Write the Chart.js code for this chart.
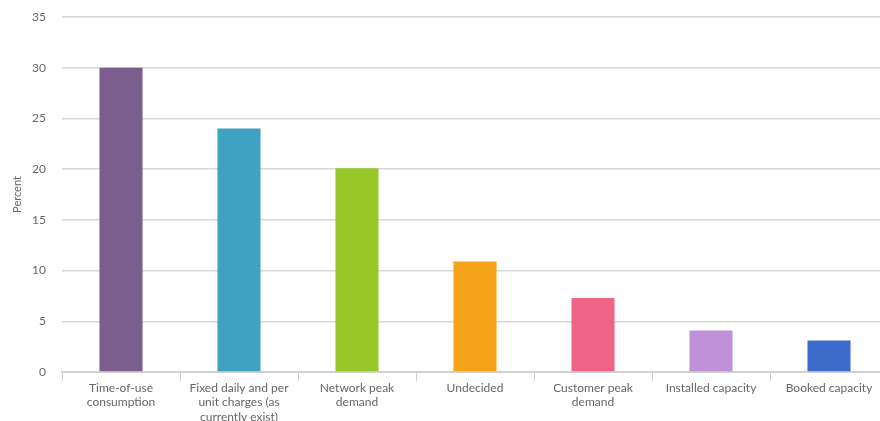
<!DOCTYPE html>
<html lang="en">
<head>
  <meta charset="UTF-8" />
  <title>Tariff preference</title>
  <script src="https://cdn.jsdelivr.net/npm/chart.js@4.4.0/dist/chart.umd.min.js"></script>
  <style>
    html, body { margin: 0; padding: 0; overflow: hidden; background: #fff; }
    #wrap { width: 890px; height: 432px; position: relative; }
  </style>
</head>
<body>
  <div id="wrap"><canvas id="chart"></canvas></div>

<script>
  // ── data ────────────────────────────────────────────
  const categories = [
    ['Time-of-use', 'consumption'],
    ['Fixed daily and per', 'unit charges (as', 'currently exist)'],
    ['Network peak', 'demand'],
    'Undecided',
    ['Customer peak', 'demand'],
    'Installed capacity',
    'Booked capacity'
  ];
  const percent = [30, 24, 20.1, 10.9, 7.3, 4.1, 3.1];
  const barColors = ['#7b5e8e', '#40a2c2', '#95c828', '#f5a41a', '#f06586', '#c091d9', '#3d6bcc'];
  const yTicks = [0, 5, 10, 15, 20, 25, 30, 35];

  const axisFont = { family: 'Lato', size: 12 };

  // ── chart ───────────────────────────────────────────
  const chart = new Chart(document.getElementById('chart'), {
    type: 'bar',
    data: {
      labels: categories,
      datasets: [{
        label: 'Percent',
        data: percent,
        backgroundColor: barColors,
        barPercentage: 0.365,
        categoryPercentage: 1
      }]
    },
    options: {
      responsive: true,
      maintainAspectRatio: false,
      animation: false,
      layout: { padding: { top: 17, left: 0, right: 2, bottom: 0 } },
      plugins: { legend: { display: false }, tooltip: { enabled: false } },
      scales: {
        x: {
          grid: { offset: true, drawOnChartArea: false, drawTicks: true, tickLength: 9, color: '#d0d0d0' },
          border: { color: '#d0d0d0', width: 2 },
          ticks: { font: axisFont, color: '#666', maxRotation: 0, autoSkip: false, padding: 0 },
          afterFit: s => { s.height = 60; s.paddingTop = 0; s.paddingBottom = 0; }
        },
        y: {
          min: 0, max: 35,
          afterBuildTicks: s => { s.ticks = yTicks.map(v => ({ value: v })); },
          grid: { color: '#d8d8d8', lineWidth: 1.5, drawTicks: false },
          border: { display: false },
          ticks: { font: axisFont, color: '#666', padding: 16 },
          title: { display: true, text: 'Percent', font: { family: 'Lato', size: 11 }, color: '#666', padding: { top: 11, bottom: 0 } },
          // tick padding otherwise pushes the plot top down
          afterFit: s => { s.width = 62; s.paddingTop = 0; s.paddingBottom = 0; }
        }
      }
    }
  });
</script>
</body>
</html>
